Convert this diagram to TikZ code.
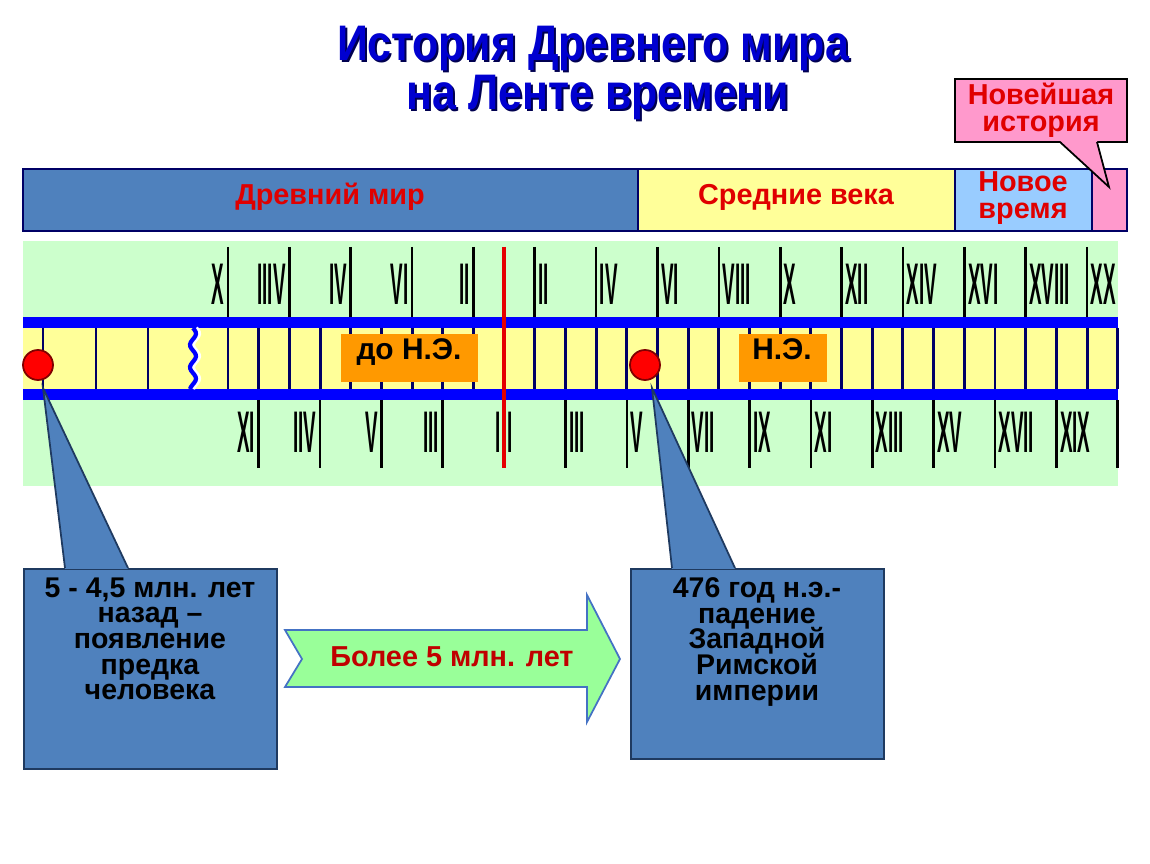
\documentclass[tikz,border=0pt]{standalone}
\usepackage{fontspec}
\setmainfont{Liberation Sans}
\newfontfamily\romfont[FakeStretch=0.32]{Liberation Sans}
\newfontfamily\headfont[FakeStretch=0.86]{Liberation Sans}
\usepackage{xcolor}
\usepackage{tikz}
\setlength{\lineskiplimit}{-20pt}
\definecolor{TLTitle}{HTML}{0000D0}
\definecolor{TLShade}{HTML}{000050}
\definecolor{TLSteel}{HTML}{4F81BD}
\definecolor{TLEdge}{HTML}{1F3A60}
\definecolor{TLYellow}{HTML}{FFFF99}
\definecolor{TLSky}{HTML}{99CCFF}
\definecolor{TLPink}{HTML}{FF99CC}
\definecolor{TLGreen}{HTML}{CCFFCC}
\definecolor{TLTape}{HTML}{0000FF}
\definecolor{TLNavy}{HTML}{000066}
\definecolor{TLOrange}{HTML}{FF9900}
\definecolor{TLRed}{HTML}{E00000}
\definecolor{TLDark}{HTML}{C00000}
\definecolor{TLArrow}{HTML}{99FF99}
\definecolor{TLArrowLine}{HTML}{4472C4}
\tikzset{
  titletext/.style={font=\headfont\bfseries\fontsize{14.2}{15}\selectfont, inner sep=0pt, anchor=base},
  period/.style={draw=TLNavy, line width=0.4pt},
  periodtext/.style={text=TLRed, font=\bfseries\fontsize{8.2}{7.7}\selectfont, align=center, inner sep=0pt},
  divider/.style={TLNavy, line width=0.85pt},
  tickline/.style={black, line width=0.75pt},
  romnum/.style={font=\romfont\bfseries\fontsize{16.7}{17}\selectfont, inner sep=0pt},
  eratext/.style={font=\bfseries\fontsize{8.5}{9}\selectfont, inner sep=0pt},
  dot/.style={circle, fill=red, draw=red!50!black, line width=0.5pt, minimum size=0.3cm, inner sep=0pt},
  callbox/.style={draw=TLEdge, fill=TLSteel, line width=0.5pt, inner sep=0pt, anchor=north west},
  calltext/.style={font=\bfseries\fontsize{8.1}{7.3}\selectfont, align=center, inner sep=0pt, anchor=north}
}
\begin{document}
\begin{tikzpicture}[x=0.01cm,y=-0.01cm]
\path[use as bounding box] (0,0) rectangle (1150,864);
% title
\node[titletext, text=TLShade] at (595,63) {История Древнего мира};
\node[titletext, text=TLTitle] (title1) at (593,61) {История Древнего мира};
\node[titletext, text=TLShade] at (600,112) {на Ленте времени};
\node[titletext, text=TLTitle] (title2) at (598,110) {на Ленте времени};
% periods
\draw[period, fill=TLSteel] (23,169) rectangle (638,231);
\draw[period, fill=TLYellow] (638,169) rectangle (955,231);
\draw[period, fill=TLSky] (955,169) rectangle (1092,231);
\draw[period, fill=TLPink] (1092,169) rectangle (1127,231);
\node[periodtext] (ancient) at (330,197) {Древний мир};
\node[periodtext] (middle) at (796,197) {Средние века};
\node[periodtext] (modern) at (1023,198) {Новое\\время};
% recent history callout
\node[draw=black, fill=TLPink, line width=0.5pt, minimum width=1.72cm, minimum height=0.63cm, periodtext] (recent) at (1041,110.5) {Новейшая\\история};
\coordinate (recenttip) at (1109,187);
\fill[TLPink] (1060,141) -- (recenttip) -- (1097,141) -- cycle;
\draw[black, line width=0.5pt] (1060,142) -- (recenttip) -- (1097,142);
% time tape
\fill[TLGreen] (23,241) rectangle (1118,486);
\fill[TLYellow] (23,328) rectangle (1118,389);
\fill[TLTape] (23,317) rectangle (1118,328);
\fill[TLTape] (23,389) rectangle (1118,400);
\foreach \x in {43,96,148}
  \draw[divider] (\x,328) -- (\x,389);
\draw[white, line width=1.2pt] plot[smooth, domain=328:389, samples=31] ({196+3*sin((\x-328)*16)},\x);
\draw[TLTape, line width=1.2pt] plot[smooth, domain=328:389, samples=31] ({193+3*sin((\x-328)*16)},\x);
\foreach \k in {0,...,29}
  \draw[divider] ({228+30.68*\k},328) -- ({228+30.68*\k},389);
\foreach \k in {0,2,...,28}
  \draw[tickline] ({228+30.68*\k},247) -- ({228+30.68*\k},317);
\foreach \k in {1,3,...,29}
  \draw[tickline] ({228+30.68*\k},400) -- ({228+30.68*\k},468);
% centuries before
\foreach \k/\t in {0/X,2/IIIV,4/IV,6/VI,8/II}
  \node[romnum, anchor=east] (bctop\k) at ({225+30.68*\k},284) {\t};
\foreach \k/\t in {1/XI,3/IIV,5/V,7/III,9/I}
  \node[romnum, anchor=east] (bcbot\k) at ({225+30.68*\k},432) {\t};
% centuries after
\foreach \k/\t in {10/II,12/IV,14/VI,16/VIII,18/X,20/XII,22/XIV,24/XVI,26/XVIII,28/XX}
  \node[romnum, anchor=west] (adtop\k) at ({231+30.68*\k},284) {\t};
\foreach \k/\t in {9/I,11/III,13/V,15/VII,17/IX,19/XI,21/XIII,23/XV,25/XVII,27/XIX}
  \node[romnum, anchor=west] (adbot\k) at ({231+30.68*\k},432) {\t};
\draw[red!90!black, line width=1.4pt] (504,247) -- (504,468);
% eras
\node[fill=TLOrange, minimum width=1.37cm, minimum height=0.48cm, inner sep=0pt, anchor=north west] (bce) at (340,333) {};
\node[eratext, anchor=base] (bcetext) at (409,360) {до Н.Э.};
\node[fill=TLOrange, minimum width=0.88cm, minimum height=0.48cm, inner sep=0pt, anchor=north west] (ce) at (738,333) {};
\node[eratext, anchor=base] (cetext) at (782,360) {Н.Э.};
% callouts
\node[callbox, minimum width=2.53cm, minimum height=2cm] (originbox) at (23,568) {};
\node[callbox, minimum width=2.53cm, minimum height=1.9cm] (fallbox) at (630,568) {};
\coordinate (origintip) at (43,388);
\coordinate (falltip) at (652,388);
\fill[TLSteel] (origintip) -- (65,569) -- (128,569) -- cycle;
\draw[TLEdge, line width=0.5pt] (65,568) -- (origintip) -- (128,568);
\fill[TLSteel] (falltip) -- (672,569) -- (735,569) -- cycle;
\draw[TLEdge, line width=0.5pt] (672,568) -- (falltip) -- (735,568);
\node[dot] (origin) at (38,365) {};
\node[dot] (fall) at (645,365) {};
\node[calltext] (origintext) at (150,577) {5 - 4,5 млн. лет\\назад –\\появление\\предка\\человека};
\node[calltext] (falltext) at (757,577) {476 год н.э.-\\падение\\Западной\\Римской\\империи};
% span arrow
\draw[TLArrowLine, fill=TLArrow, line width=0.5pt] (285,630) -- (587,630) -- (587,595) -- (620,659) -- (587,722) -- (587,687) -- (285,687) -- (302,659) -- cycle;
\node[font=\bfseries\fontsize{8.2}{9}\selectfont, text=TLDark, inner sep=0pt] (span) at (452,657) {Более 5 млн. лет};
\end{tikzpicture}
\end{document}
